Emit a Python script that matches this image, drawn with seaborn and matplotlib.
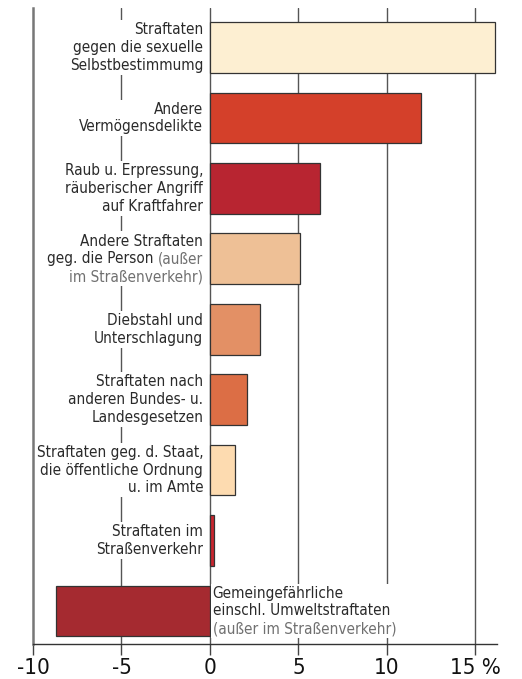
import matplotlib
matplotlib.use("Agg")
import matplotlib.pyplot as plt
from matplotlib import font_manager
from matplotlib.offsetbox import TextArea, VPacker, HPacker, AnnotationBbox
import seaborn as sns
import pandas as pd

##################################################################
# data
##################################################################
categories = ["sexuell", "vermoegen", "raub", "person", "diebstahl",
              "bundes", "staat", "verkehr", "gemein"]
values = [16.1, 11.9, 6.2, 5.1, 2.85, 2.1, 1.4, 0.25, -8.7]
colors = ["#FDEFD2", "#D4402A", "#B82531", "#EEC096", "#E39065",
          "#DC6E45", "#FDDBB0", "#C8252E", "#A52A30"]
# each label: list of lines, each line a list of (text, light?) pieces
labels = [
    [[("Straftaten", 0)], [("gegen die sexuelle", 0)], [("Selbstbestimmumg", 0)]],
    [[("Andere", 0)], [("Vermögensdelikte", 0)]],
    [[("Raub u. Erpressung,", 0)], [("räuberischer Angriff", 0)], [("auf Kraftfahrer", 0)]],
    [[("Andere Straftaten", 0)], [("geg. die Person ", 0), ("(außer", 1)], [("im Straßenverkehr)", 1)]],
    [[("Diebstahl und", 0)], [("Unterschlagung", 0)]],
    [[("Straftaten nach", 0)], [("anderen Bundes- u.", 0)], [("Landesgesetzen", 0)]],
    [[("Straftaten geg. d. Staat,", 0)], [("die öffentliche Ordnung", 0)], [("u. im Amte", 0)]],
    [[("Straftaten im", 0)], [("Straßenverkehr", 0)]],
    [[("Gemeingefährliche", 0)], [("einschl. Umweltstraftaten", 0)], [("(außer im Straßenverkehr)", 1)]],
]
xticks = [-10, -5, 0, 5, 10, 15]
xticklabels = ["-10", "-5", "0", "5", "10", "15 %"]

df = pd.DataFrame({"cat": categories, "val": values})

##################################################################
# font
##################################################################
installed = {f.name for f in font_manager.fontManager.ttflist}
fam = "Liberation Sans Narrow" if "Liberation Sans Narrow" in installed else "DejaVu Sans"
stretch = "normal" if fam == "Liberation Sans Narrow" else "condensed"

sns.set_style("white")
plt.rcParams["font.family"] = [fam, "DejaVu Sans"]

##################################################################
# figure
##################################################################
fig = plt.figure(figsize=(5.22, 6.79), dpi=100)
ax = fig.add_axes([0.0632, 0.0515, 0.8883, 0.9365])

for x in xticks[1:]:
    ax.axvline(x, color="#555555", lw=1.0, zorder=0.5)

sns.barplot(data=df, x="val", y="cat", hue="cat", palette=colors, legend=False,
            width=0.72, edgecolor="#333333", linewidth=0.9, saturation=1, ax=ax, zorder=2)

ax.set_xlim(-10, 16.2)
ax.set_ylim(len(categories) - 1 + 0.47, -0.56)
ax.set_yticks([])
ax.set_ylabel("")
ax.set_xlabel("")
ax.set_xticks(xticks)
ax.set_xticklabels(xticklabels, fontsize=16, color="#111111", fontstretch=stretch)
ax.tick_params(axis="x", direction="out", length=8, width=1, color="#444444", pad=2, bottom=True)

for s in ["top", "right"]:
    ax.spines[s].set_visible(False)
ax.spines["left"].set_color("#777777")
ax.spines["left"].set_linewidth(1.8)
ax.spines["bottom"].set_color("#333333")
ax.spines["bottom"].set_linewidth(1.0)

fz = 11.0
dark = dict(color="#2a2a2a", fontsize=fz, fontstretch=stretch)
light = dict(color="#707070", fontsize=fz, fontstretch=stretch, fontweight="light")

for i, lab in enumerate(labels):
    rows = []
    for line in lab:
        parts = [TextArea(t, textprops=(light if l else dark)) for t, l in line]
        rows.append(parts[0] if len(parts) == 1 else HPacker(children=parts, pad=0, sep=0, align="baseline"))
    right = values[i] >= 0
    box = VPacker(children=rows, align="right" if right else "left", pad=0, sep=2.0)
    xpos = -0.38 if right else 0.15
    ab = AnnotationBbox(box, (xpos, i), xycoords="data",
                        box_alignment=(1, 0.5) if right else (0, 0.5),
                        frameon=True, pad=0.15,
                        bboxprops=dict(facecolor="white", edgecolor="none"))
    ab.set_zorder(3)
    ax.add_artist(ab)

plt.savefig("out.png", dpi=100)
